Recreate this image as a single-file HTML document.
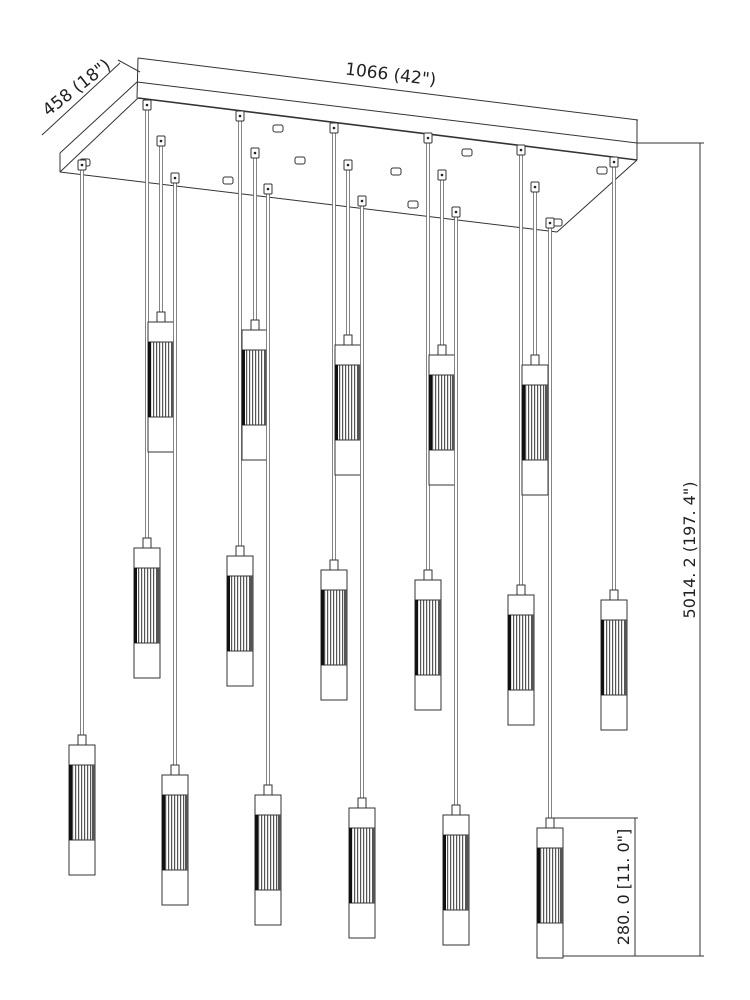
<!DOCTYPE html>
<html><head><meta charset="utf-8"><style>
html,body{margin:0;padding:0;background:#fff;}
svg{display:block;}
text{font-family:"DejaVu Sans","Liberation Sans",sans-serif;fill:#222;}
</style></head><body>
<svg id="s" width="750" height="1000" viewBox="0 0 750 1000" xmlns="http://www.w3.org/2000/svg">
<defs>
<pattern id="fl" width="3" height="10" patternUnits="userSpaceOnUse">
<rect width="3" height="10" fill="#fff"/><rect width="1.2" height="10" fill="#555"/>
</pattern>
</defs>
<g stroke="#333" stroke-width="1" fill="none">
<line x1="138" y1="58" x2="638" y2="120"/>
<line x1="137" y1="82" x2="637" y2="143"/>
<line x1="138" y1="98" x2="637" y2="160" stroke-width="1.6"/>
<line x1="138" y1="58" x2="137" y2="98"/>
<line x1="637" y1="120" x2="637" y2="160"/>
<line x1="137" y1="82" x2="60" y2="153"/>
<line x1="138" y1="98" x2="60" y2="172"/>
<line x1="60" y1="153" x2="60" y2="172"/>
<line x1="60" y1="172" x2="557" y2="232"/>
<line x1="637" y1="160" x2="557" y2="232"/>
<line x1="120" y1="63" x2="42" y2="135"/>
<line x1="118" y1="60" x2="140" y2="72"/>
<line x1="637" y1="143" x2="704" y2="143"/>
<line x1="700" y1="143" x2="700" y2="956"/>
<line x1="537" y1="956" x2="704" y2="956"/>
<line x1="553" y1="818" x2="638" y2="818"/>
<line x1="635" y1="818" x2="635" y2="956"/>
</g>
<g id="p"></g>
<text x="390" y="80" font-size="17" text-anchor="middle" transform="rotate(7 390 80)">1066 (42")</text>
<text x="80" y="92" font-size="17" text-anchor="middle" transform="rotate(-38 80 92)">458 (18")</text>
<text x="0" y="0" font-size="16" text-anchor="middle" transform="translate(695 550) rotate(-90)">5014. 2 (197. 4")</text>
<text x="0" y="0" font-size="16" text-anchor="middle" transform="translate(629 887) rotate(-90)">280. 0 [11. 0"]</text>
</svg>
<script>
var P=[[161,146,322],[147,110,548],[175,183,775],[82,170,745],[255,158,330],[240,121,556],[268,194,795],[348,170,345],[334,133,570],[362,206,808],[442,180,355],[428,143,580],[456,217,815],[535,192,365],[521,155,595],[550,228,828],[614,167,600]];
var caps=[[278,128],[300,160],[228,180],[396,171],[467,152],[413,204],[557,222],[602,170],[85,162]];
var h='';
caps.forEach(function(c){h+='<rect x="'+(c[0]-5)+'" y="'+(c[1]-3)+'" width="10" height="7" rx="2" fill="#fff" stroke="#333"/>';});
P.sort(function(a,b){return a[1]-b[1];});
P.forEach(function(p){var x=p[0],hy=p[1],t=p[2];
h+='<rect x="'+(x-1.5)+'" y="'+hy+'" width="3" height="'+(t-10-hy)+'" fill="#fff" stroke="#666" stroke-width="0.8"/>';
h+='<rect x="'+(x-4)+'" y="'+(hy-10)+'" width="8" height="10" rx="1" fill="#fff" stroke="#333"/><circle cx="'+x+'" cy="'+(hy-5)+'" r="1.3" fill="#222"/>';
h+='<rect x="'+(x-4)+'" y="'+(t-10)+'" width="8" height="10" fill="#fff" stroke="#333"/>';
h+='<rect x="'+(x-13)+'" y="'+t+'" width="26" height="130" fill="#fff" stroke="#333"/>';
h+='<rect x="'+(x-13)+'" y="'+(t+20)+'" width="26" height="75" fill="url(#fl)" stroke="#333" stroke-width="1"/>';
h+='<rect x="'+(x-13)+'" y="'+(t+20)+'" width="3" height="75" fill="#111"/>';
h+='<rect x="'+(x+10)+'" y="'+(t+20)+'" width="3" height="75" fill="#555"/>';
});
document.getElementById('p').innerHTML=h;
</script>
</body></html>
